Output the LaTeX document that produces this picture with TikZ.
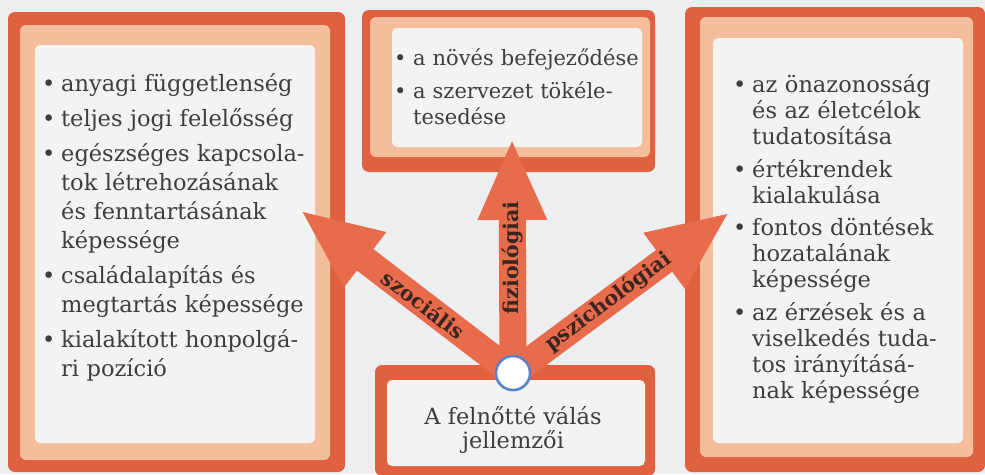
\documentclass[tikz,border=0pt]{standalone}
\usepackage{fontspec}
\setmainfont{DejaVu Serif}
\usepackage{xcolor}
\usetikzlibrary{positioning}
\usetikzlibrary{arrows.meta, shapes}
\definecolor{framered}{HTML}{E0613F}
\definecolor{peach}{HTML}{F4BE9C}
\definecolor{paper}{HTML}{F3F3F2}
\definecolor{bg}{HTML}{ECEEEF}
\definecolor{arrowred}{HTML}{E86B4C}
\definecolor{hubblue}{HTML}{5B82C9}
\definecolor{ink}{HTML}{3E3E3E}
\definecolor{labelink}{HTML}{3A2620}
\tikzstyle{redband} = [fill=framered, rounded corners=7pt]
\tikzstyle{peachband} = [fill=peach, rounded corners=6pt]
\tikzstyle{inner} = [fill=paper, rounded corners=5pt]
\tikzstyle{listtext} = [anchor=north west, inner sep=0pt, text=ink]
\tikzstyle{bigarrow} = [line width=27pt, arrowred, -{Triangle[length=82pt,width=63pt]}]
\tikzstyle{lbl} = [inner sep=0pt, text=labelink, font=\fontsize{20.5}{20.5}\selectfont\bfseries]
\tikzstyle{hubring} = [circle, fill=white, draw=hubblue, line width=2.5pt, minimum size=34pt, inner sep=0pt]
\newcommand\bul{\par\noindent\hangindent=23pt\hangafter=1\makebox[23pt][l]{\hspace{4pt}\textbullet}}

\begin{document}
\begin{tikzpicture}[x=1pt,y=-1pt]
\useasboundingbox (0,0) rectangle (985,474);
\fill [bg] (0,0) rectangle (985,474);
% left panel
\fill [redband] (8,12) rectangle (345,472);
\fill [peachband] (20,25) rectangle (330,460);
\fill [inner] (35,45) rectangle (315,443);
% top panel
\fill [redband] (362,10) rectangle (655,172);
\fill [peachband] (370,17) rectangle (650,157);
\fill [inner] (392,28) rectangle (642,147);
% right panel
\fill [redband] (685,7) rectangle (985,472);
\fill [peachband] (700,17) rectangle (973,457);
\fill [inner] (713,38) rectangle (963,443);
% bottom panel
\fill [redband] (375,365) rectangle (655,476);
\fill [inner] (387,380) rectangle (645,466);
% texts
\draw (38,56) node (soc) [listtext, text width=290pt, font=\fontsize{22.5}{29}\selectfont] {\setlength{\parskip}{6pt}%
\bul anyagi függetlenség
\bul teljes jogi felelősség
\bul egészséges kapcsola-\newline tok létrehozásának\newline és fenntartásának\newline képessége
\bul családalapítás és\newline megtartás képessége
\bul kialakított honpolgá-\newline ri pozíció\par};
\draw (390,32) node (fiz) [listtext, text width=265pt, font=\fontsize{21}{26.5}\selectfont] {\setlength{\parskip}{6.5pt}%
\bul a növés befejeződése
\bul a szervezet tökéle-\newline tesedése\par};
\draw (729,60) node (psz) [listtext, text width=250pt, font=\fontsize{22.5}{26}\selectfont] {\setlength{\parskip}{6.5pt}%
\bul az önazonosság\newline és az életcélok\newline tudatosítása
\bul értékrendek\newline kialakulása
\bul fontos döntések\newline hozatalának\newline képessége
\bul az érzések és a\newline viselkedés tuda-\newline tos irányításá-\newline nak képessége\par};
\draw (513,430) node (cim) [align=center, text=ink, font=\fontsize{22.5}{24}\selectfont] {A felnőtté válás\\jellemzői};
% arrows
\coordinate (soctip) at (300,210);
\coordinate (fiztip) at (512,138);
\coordinate (psztip) at (730,212);
\draw (513,373) node (hub) [hubring] {};
\draw [bigarrow] (hub.center) -- (soctip) node [lbl, sloped, pos=.42] {szociális};
\draw [bigarrow] (hub.center) -- (fiztip) node [lbl, rotate=90, pos=.49] {fiziológiai};
\draw [bigarrow] (hub.center) -- (psztip) node [lbl, sloped, pos=.44] {pszichológiai};
\draw (513,373) node (hubtop) [hubring] {};
\end{tikzpicture}
\end{document}
